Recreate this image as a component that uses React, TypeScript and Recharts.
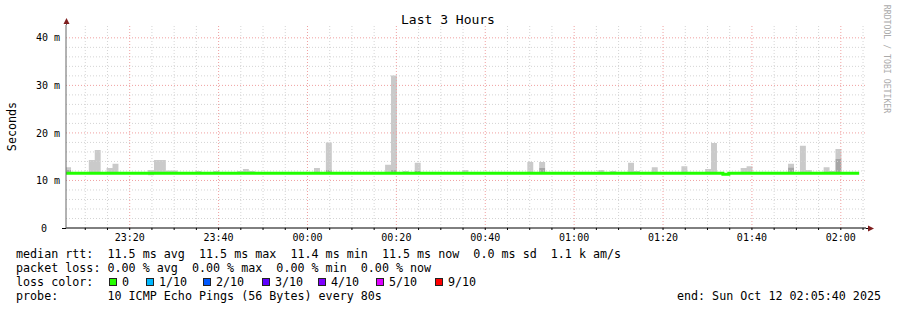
import { ComposedChart, Area, Line, XAxis, YAxis, ReferenceLine } from "recharts";

const W = 897;
const H = 310;
const MONO = "'DejaVu Sans Mono', monospace";

const TITLE = "Last 3 Hours";
const Y_TITLE = "Seconds";
const WATERMARK = "RRDTOOL / TOBI OETIKER";

const RANGE_START = "23:05:40";
const RANGE_END = "02:05:40";
const LAST_SAMPLE_END = "02:04:08";
const STEP_SEC = 80;

const HOUR_TICKS = ["23:20", "23:40", "00:00", "00:20", "00:40", "01:00", "01:20", "01:40", "02:00"];
const GRID_TICKS = [
  "23:10", "23:15", "23:20", "23:25", "23:30", "23:35", "23:40", "23:45", "23:50", "23:55",
  "00:00", "00:05", "00:10", "00:15", "00:20", "00:25", "00:30", "00:35", "00:40", "00:45", "00:50", "00:55",
  "01:00", "01:05", "01:10", "01:15", "01:20", "01:25", "01:30", "01:35", "01:40", "01:45", "01:50", "01:55",
  "02:00", "02:05",
];

const MS_TICKS = [0, 10, 20, 30, 40];
const MS_MINOR = [2, 4, 6, 8, 12, 14, 16, 18, 22, 24, 26, 28, 32, 34, 36, 38];
const MS_MAX = 42.7;

// median rtt (ms), given where it changes
const MEDIAN_STEPS = [
  { time: "23:05:28", ms: 11.5 },
  { time: "01:33:28", ms: 11.3 },
  { time: "01:34:48", ms: 11.5 },
];

// smoke: one entry per 80s sample that sticks out above the median
const SMOKE_FLOOR = 11.4;
const SMOKE = [
  { time: "23:05:28", top: 12.8, dark: 12.3 },
  { time: "23:10:48", top: 14.3 },
  { time: "23:12:08", top: 16.4 },
  { time: "23:14:48", top: 12.6 },
  { time: "23:16:08", top: 13.5 },
  { time: "23:24:08", top: 12.2, low: 11.1 },
  { time: "23:25:28", top: 14.3 },
  { time: "23:26:48", top: 14.3 },
  { time: "23:28:08", top: 12.1 },
  { time: "23:29:28", top: 12.1 },
  { time: "23:34:48", top: 12.0 },
  { time: "23:38:48", top: 12.0 },
  { time: "23:44:08", top: 12.0 },
  { time: "23:45:28", top: 12.4 },
  { time: "23:46:48", top: 12.0 },
  { time: "00:01:28", top: 12.6 },
  { time: "00:04:08", top: 18.0, dark: 12.2 },
  { time: "00:17:28", top: 13.3 },
  { time: "00:18:48", top: 32.1, dark: 12.2 },
  { time: "00:21:28", top: 12.0 },
  { time: "00:24:08", top: 13.7, dark: 12.0 },
  { time: "00:34:48", top: 12.2 },
  { time: "00:49:28", top: 13.9 },
  { time: "00:52:08", top: 13.9, dark: 12.6 },
  { time: "01:05:28", top: 12.2 },
  { time: "01:08:08", top: 12.0 },
  { time: "01:12:08", top: 13.7 },
  { time: "01:13:28", top: 12.0 },
  { time: "01:17:28", top: 12.8 },
  { time: "01:24:08", top: 13.0 },
  { time: "01:29:28", top: 12.4 },
  { time: "01:30:48", top: 17.9 },
  { time: "01:37:28", top: 12.6 },
  { time: "01:38:48", top: 13.0 },
  { time: "01:48:08", top: 13.5, dark: 12.8 },
  { time: "01:50:48", top: 17.3 },
  { time: "01:52:08", top: 12.2 },
  { time: "01:56:08", top: 12.8 },
  { time: "01:57:28", top: 12.0 },
  { time: "01:58:48", top: 16.6, dark: 14.5 },
];

const RTT_STATS = ["11.5 ms avg", "11.5 ms max", "11.4 ms min", "11.5 ms now", "0.0 ms sd", "1.1 k am/s"];
const LOSS_STATS = ["0.00 % avg", "0.00 % max", "0.00 % min", "0.00 % now"];
const LOSS_LABELS = ["0", "1/10", "2/10", "3/10", "4/10", "5/10", "9/10"];
const LOSS_COLORS = ["#26ff00", "#00b8ff", "#0059ff", "#5e00ff", "#7e00ff", "#dd00ff", "#ff0000"];
const PROBE = "10 ICMP Echo Pings (56 Bytes) every 80s";
const END_TEXT = "end: Sun Oct 12 02:05:40 2025";

// clock time -> seconds, times after midnight belong to the next day
const toSec = (s: string) => {
  const [h, m, x] = s.split(":").map(Number);
  return (h < 12 ? h + 24 : h) * 3600 + m * 60 + (x || 0);
};

// svg collapses runs of spaces, so keep them as no-break spaces
const keep = (s: string) => s.replace(/ /g, "\u00a0");

const smokeAt = new Map(SMOKE.map((s) => [toSec(s.time), s]));
const keys = new Set<number>([toSec(LAST_SAMPLE_END)]);
SMOKE.forEach((s) => {
  keys.add(toSec(s.time));
  keys.add(toSec(s.time) + STEP_SEC);
});
MEDIAN_STEPS.forEach((m) => keys.add(toSec(m.time)));

const rows = [...keys]
  .sort((a, b) => a - b)
  .map((t) => {
    const s = smokeAt.get(t);
    const low = s?.low ?? SMOKE_FLOOR;
    const dark = s?.dark ?? low;
    const top = s?.top ?? low;
    let median = MEDIAN_STEPS[0].ms;
    MEDIAN_STEPS.forEach((m) => {
      if (toSec(m.time) <= t) median = m.ms;
    });
    return { t, base: low, dark: dark - low, light: top - dark, median };
  });

const hourSet = new Map(HOUR_TICKS.map((h) => [toSec(h + ":00"), h]));
const gridSecs = GRID_TICKS.map((g) => toSec(g + ":00"));

const YTick = (props: any) => {
  const { x, y, payload } = props;
  const zero = payload.value === 0;
  return (
    <text x={zero ? x - 13 : x} y={y} dy="0.36em" textAnchor="end" fontFamily={MONO} fontSize={10} fill="#000">
      {zero ? "0" : keep(`${payload.value} m`)}
    </text>
  );
};

export default function App() {
  return (
    <div style={{ position: "absolute", left: 0, top: 0, width: W, height: H, background: "#fff" }}>
      <ComposedChart width={W} height={H} data={rows} margin={{ top: 25, right: 31, bottom: 62, left: 0 }}>
        {MS_MINOR.map((v) => (
          <ReferenceLine key={"h" + v} y={v} stroke="#d4d4d4" strokeDasharray="1 2" />
        ))}
        {gridSecs.map((t) =>
          hourSet.has(t) ? null : <ReferenceLine key={"v" + t} x={t} stroke="#d4d4d4" strokeDasharray="1 2" />
        )}
        {MS_TICKS.filter((v) => v > 0).map((v) => (
          <ReferenceLine key={"H" + v} y={v} stroke="#f0a0a0" strokeDasharray="1 2" />
        ))}
        {[...hourSet.keys()].map((t) => (
          <ReferenceLine key={"V" + t} x={t} stroke="#f0a0a0" strokeDasharray="1 2" />
        ))}
        <XAxis
          dataKey="t"
          type="number"
          domain={[toSec(RANGE_START), toSec(RANGE_END)]}
          allowDataOverflow
          ticks={gridSecs}
          interval={0}
          tickFormatter={(v: number) => hourSet.get(v) ?? ""}
          tick={{ fontFamily: MONO, fontSize: 10, fill: "#000" }}
          tickLine={{ stroke: "#000" }}
          tickSize={2}
          tickMargin={4}
          axisLine={{ stroke: "#000" }}
          height={20}
        />
        <YAxis
          type="number"
          domain={[0, MS_MAX]}
          allowDataOverflow
          ticks={MS_TICKS}
          interval={0}
          width={66}
          tick={YTick}
          tickLine={false}
          tickSize={0}
          tickMargin={6}
          axisLine={{ stroke: "#666" }}
        />
        <Area dataKey="base" stackId="s" type="stepAfter" stroke="none" fill="none" isAnimationActive={false} />
        <Area dataKey="dark" stackId="s" type="stepAfter" stroke="none" fill="#a6a6a6" fillOpacity={1} isAnimationActive={false} />
        <Area dataKey="light" stackId="s" type="stepAfter" stroke="none" fill="#cacaca" fillOpacity={1} isAnimationActive={false} />
        <Line dataKey="median" type="stepAfter" stroke="#22ff00" strokeWidth={3} dot={false} activeDot={false} isAnimationActive={false} />
      </ComposedChart>

      <svg width={W} height={H} style={{ position: "absolute", left: 0, top: 0, pointerEvents: "none" }}>
        <text x={448} y={24} textAnchor="middle" fontFamily={MONO} fontSize={13} fill="#000">
          {keep(TITLE)}
        </text>
        <text transform="translate(15.5,126.5) rotate(-90)" textAnchor="middle" fontFamily={MONO} fontSize={11.7} fill="#000">
          {Y_TITLE}
        </text>
        <text transform="translate(884,59) rotate(90)" textAnchor="middle" fontFamily={MONO} fontSize={8.2} fill="#aaa">
          {keep(WATERMARK)}
        </text>
        <line x1={66.5} y1={21} x2={66.5} y2={25} stroke="#666" />
        <path d="M63.5,24 L69.5,24 L66.5,18 Z" fill="#7f1f1f" />
        <line x1={62} y1={228.5} x2={66} y2={228.5} stroke="#000" />
        <line x1={866} y1={228.5} x2={869} y2={228.5} stroke="#000" />
        <path d="M868,225.5 L868,231.5 L874,228.5 Z" fill="#7f1f1f" />

        <g fontFamily={MONO} fontSize={11.7} fill="#000">
          <text x={16} y={258}>{keep("median rtt:  " + RTT_STATS.join("  "))}</text>
          <text x={16} y={272}>{keep("packet loss: " + LOSS_STATS.join("  "))}</text>
          <text x={16} y={286}>{keep("loss color:")}</text>
          {LOSS_LABELS.map((l, i) => {
            const x = [109, 146, 203, 262, 318, 376, 435][i];
            return (
              <g key={l}>
                <rect x={x + 0.5} y={278.5} width={7} height={7} fill={LOSS_COLORS[i]} stroke="#222" strokeWidth={1} />
                <text x={x + 13} y={286}>{l}</text>
              </g>
            );
          })}
          <text x={16} y={300}>{keep("probe:       " + PROBE)}</text>
          <text x={881} y={300} textAnchor="end">{keep(END_TEXT)}</text>
        </g>
      </svg>
    </div>
  );
}
